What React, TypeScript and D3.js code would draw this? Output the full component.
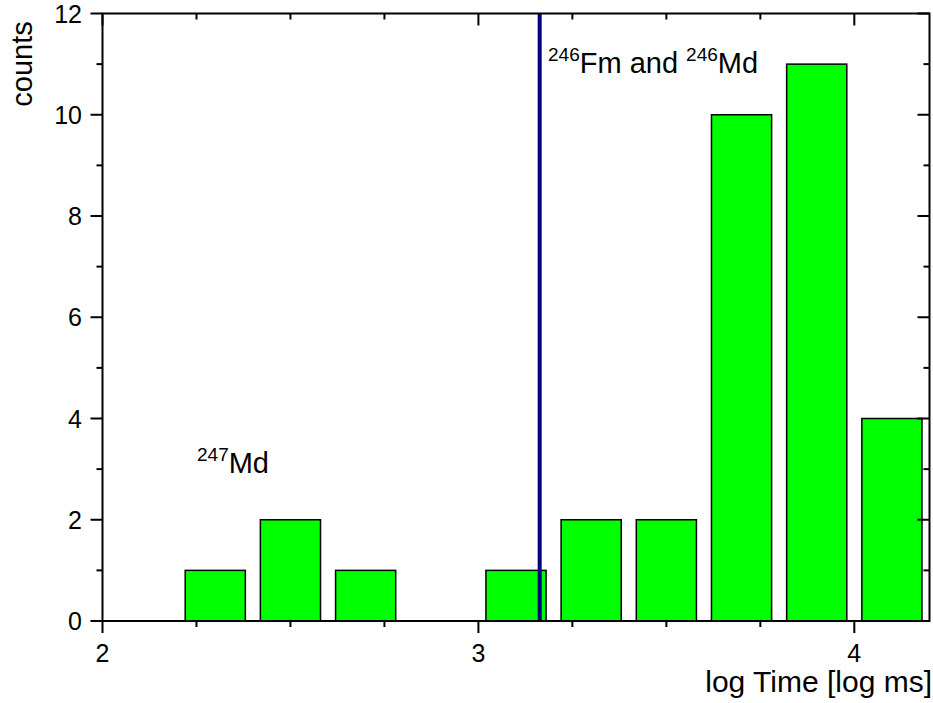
import React, { useRef, useEffect } from 'react';
import * as d3 from 'd3';

// histogram bins (centre of each 0.2-wide bin in log ms) and counts
const binCenters = [2.1, 2.3, 2.5, 2.7, 2.9, 3.1, 3.3, 3.5, 3.7, 3.9, 4.1];
const counts = [0, 1, 2, 1, 0, 1, 2, 2, 10, 11, 4];
const xMajorTicks = [2, 3, 4];
const yMajorTicks = [0, 2, 4, 6, 8, 10, 12];
const markerX = 3.163;

const App = () => {
  const svgRef = useRef<SVGSVGElement>(null);

  useEffect(() => {
    const width = 933;
    const height = 703;
    const left = 102.5, right = 929.5, top = 13.5, bottom = 621;
    const font = 'Liberation Sans, Arial, Helvetica, sans-serif';

    const svg = d3.select(svgRef.current)
      .attr('width', width)
      .attr('height', height);
    svg.selectAll('*').remove();

    const x = d3.scaleLinear().domain([2, 4.2]).range([left, right]);
    const y = d3.scaleLinear().domain([0, 12]).range([bottom, top]);
    const binW = 0.2;
    const barW = binW * 0.8;

    // bars
    svg.append('g')
      .selectAll('rect')
      .data(binCenters.map((c, i) => ({ c, v: counts[i] })).filter(d => d.v > 0))
      .enter().append('rect')
      .attr('x', d => x(d.c - barW / 2))
      .attr('y', d => y(d.v))
      .attr('width', d => x(d.c + barW / 2) - x(d.c - barW / 2))
      .attr('height', d => y(0) - y(d.v))
      .attr('fill', '#00ff00')
      .attr('stroke', '#000')
      .attr('stroke-width', 1.5);

    // marker line
    svg.append('line')
      .attr('x1', x(markerX)).attr('x2', x(markerX))
      .attr('y1', top).attr('y2', bottom)
      .attr('stroke', '#000080')
      .attr('stroke-width', 4);

    // frame
    const ax = svg.append('g').attr('stroke', '#000').attr('stroke-width', 2);
    ax.append('rect')
      .attr('x', left).attr('y', top)
      .attr('width', right - left).attr('height', bottom - top)
      .attr('fill', 'none');

    // x ticks (outward bottom, inward top)
    const xMinor = d3.range(2, 4.2001, 0.25);
    xMinor.forEach(v => {
      const major = xMajorTicks.some(m => Math.abs(m - v) < 1e-6);
      const len = major ? 12 : 6;
      ax.append('line').attr('x1', x(v)).attr('x2', x(v)).attr('y1', bottom).attr('y2', bottom + len);
      ax.append('line').attr('x1', x(v)).attr('x2', x(v)).attr('y1', top).attr('y2', top + len);
    });
    // y ticks (outward left, inward right)
    d3.range(0, 12.001, 1).forEach(v => {
      const major = v % 2 === 0;
      const len = major ? 12 : 6;
      ax.append('line').attr('x1', left - len).attr('x2', left).attr('y1', y(v)).attr('y2', y(v));
      ax.append('line').attr('x1', right - len).attr('x2', right).attr('y1', y(v)).attr('y2', y(v));
    });

    // tick labels
    svg.append('g').selectAll('text').data(xMajorTicks).enter().append('text')
      .attr('x', d => x(d)).attr('y', 662)
      .attr('text-anchor', 'middle')
      .style('font-family', font).style('font-size', '25px')
      .text(d => d);
    svg.append('g').selectAll('text').data(yMajorTicks).enter().append('text')
      .attr('x', 82).attr('y', d => y(d) + 9)
      .attr('text-anchor', 'end')
      .style('font-family', font).style('font-size', '25px')
      .text(d => d);

    // axis titles
    svg.append('text')
      .attr('x', 932).attr('y', 692)
      .attr('text-anchor', 'end')
      .style('font-family', font).style('font-size', '30px')
      .text('log Time [log ms]');
    svg.append('text')
      .attr('transform', 'translate(32,64) rotate(-90)')
      .attr('text-anchor', 'middle')
      .style('font-family', font).style('font-size', '29px')
      .text('counts');

    // annotations
    const ann1 = svg.append('text')
      .attr('x', 548).attr('y', 73)
      .style('font-family', font).style('font-size', '29px');
    ann1.append('tspan').attr('dy', -12).style('font-size', '19px').text('246');
    ann1.append('tspan').attr('dy', 12).text('Fm and ');
    ann1.append('tspan').attr('dy', -12).style('font-size', '19px').text('246');
    ann1.append('tspan').attr('dy', 12).text('Md');

    const ann2 = svg.append('text')
      .attr('x', 197).attr('y', 473)
      .style('font-family', font).style('font-size', '29px');
    ann2.append('tspan').attr('dy', -12).style('font-size', '19px').text('247');
    ann2.append('tspan').attr('dy', 12).text('Md');
  }, []);

  return (
    <div style={{ position: 'absolute', left: 0, top: 0 }}>
      <svg ref={svgRef} style={{ display: 'block', background: '#fff' }}></svg>
    </div>
  );
};

export default App;
